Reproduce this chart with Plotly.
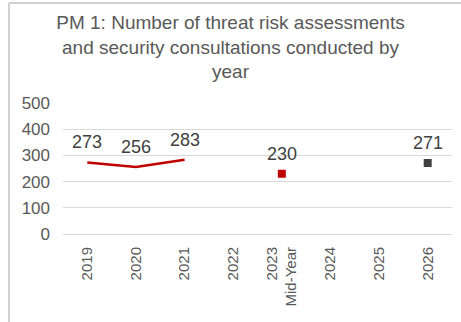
import plotly.graph_objects as go

categories = ["2019", "2020", "2021", "2022", "2023<br>Mid-Year", "2024", "2025", "2026"]
actual_years = ["2019", "2020", "2021"]
actual_values = [273, 256, 283]
midyear_cat = ["2023<br>Mid-Year"]
midyear_values = [230]
target_cat = ["2026"]
target_values = [271]
y_ticks = [0, 100, 200, 300, 400, 500]

W, H = 461, 322
ml, mr, mt, mb = 63, 9, 103, 88
pw, ph = W - ml - mr, H - mt - mb
FONT = "Liberation Sans, Arial"

def px_x(x):
    return (x - ml) / pw

def px_y(y):
    return (H - mb - y) / ph

label_font = dict(family=FONT, size=18, color="#404040")

fig = go.Figure()
fig.add_trace(go.Scatter(
    x=actual_years, y=actual_values, mode="lines",
    line=dict(color="#C00000", width=2.5), showlegend=False, hoverinfo="skip",
))
fig.add_trace(go.Scatter(
    x=midyear_cat, y=midyear_values, mode="markers",
    marker=dict(color="#C00000", size=8, symbol="square"), showlegend=False, hoverinfo="skip",
))
fig.add_trace(go.Scatter(
    x=target_cat, y=target_values, mode="markers",
    marker=dict(color="#404040", size=8, symbol="square"), showlegend=False, hoverinfo="skip",
))

annotations = []
for xs, ys in [(actual_years, actual_values), (midyear_cat, midyear_values), (target_cat, target_values)]:
    for xv, yv in zip(xs, ys):
        annotations.append(dict(
            x=categories.index(xv), y=yv, xref="x", yref="y", text=str(yv), showarrow=False,
            yshift=20, xanchor="center", yanchor="middle", font=label_font,
        ))

fig.update_layout(
    width=W, height=H,
    margin=dict(l=ml, r=mr, t=mt, b=mb, autoexpand=False),
    paper_bgcolor="white", plot_bgcolor="white",
    font=dict(family=FONT, color="#595959"),
    title=dict(
        text="PM 1: Number of threat risk assessments<br>and security consultations conducted by<br>year",
        x=0.5, xanchor="center", y=1 - 29 / H, yanchor="top",
        font=dict(family=FONT, size=19, color="#595959"),
        automargin=False,
    ),
    xaxis=dict(
        type="category", categoryorder="array", categoryarray=categories,
        tickangle=-90, tickfont=dict(size=15, color="#595959"),
        showgrid=False, showline=False, ticks="", range=[-0.5, 7.5],
        automargin=False, ticklabelstandoff=9,
    ),
    yaxis=dict(
        range=[0, 500], tickvals=y_ticks, tickfont=dict(size=17, color="#595959"),
        showgrid=True, gridcolor="#D9D9D9", gridwidth=1, zeroline=True,
        zerolinecolor="#D9D9D9", zerolinewidth=1, ticks="", ticklabelstandoff=12,
        automargin=False,
    ),
    annotations=annotations,
    shapes=[
        dict(type="line", xref="paper", yref="paper",
             x0=px_x(9), x1=px_x(W), y0=px_y(3), y1=px_y(3),
             line=dict(color="#D0D0D0", width=2)),
        dict(type="line", xref="paper", yref="paper",
             x0=px_x(9), x1=px_x(9), y0=px_y(3), y1=px_y(H),
             line=dict(color="#D0D0D0", width=2)),
    ],
)

fig.write_html(
    "out.html",
    config={"displayModeBar": False, "staticPlot": True},
    post_script="document.body.style.margin='0';document.body.style.overflow='hidden';",
)
